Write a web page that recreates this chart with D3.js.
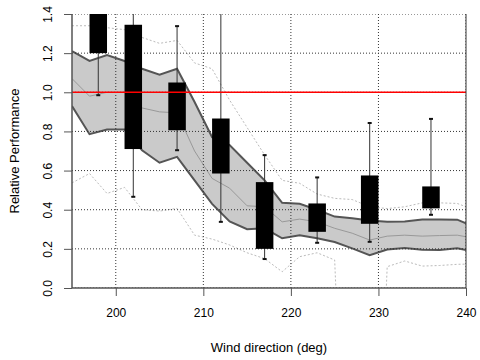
<!DOCTYPE html>
<html>
<head>
<meta charset="utf-8">
<script src="https://cdn.jsdelivr.net/npm/d3@7"></script>
<style>
  body { margin: 0; background: #fff; }
  text { font-family: "Liberation Sans", Arial, sans-serif; }
</style>
</head>
<body>
<div id="chart"></div>
<script>
// wind direction grid of the band lines
const dirs = [195, 197, 199, 201, 203, 205, 207, 209, 211, 213, 215, 217, 219, 221, 223, 225, 227, 229, 231, 233, 235, 237, 239, 240]
const bandUpper = [1.21, 1.16, 1.19, 1.16, 1.12, 1.09, 1.12, 0.95, 0.77, 0.73, 0.64, 0.55, 0.435, 0.43, 0.40, 0.365, 0.356, 0.345, 0.338, 0.34, 0.35, 0.35, 0.349, 0.33]
const bandLower = [0.93, 0.786, 0.81, 0.81, 0.704, 0.64, 0.67, 0.55, 0.43, 0.34, 0.30, 0.305, 0.254, 0.27, 0.254, 0.235, 0.2025, 0.168, 0.197, 0.204, 0.196, 0.194, 0.2025, 0.194]
const bandMid = [1.07, 0.98, 1.0, 1.0, 0.92, 0.90, 0.895, 0.70, 0.56, 0.51, 0.42, 0.415, 0.338, 0.352, 0.338, 0.305, 0.28, 0.245, 0.265, 0.27, 0.265, 0.268, 0.27, 0.262]
const outerUpper = [1.34, 1.34, 1.33, 1.32, 1.28, 1.25, 1.265, 1.15, 1.12, 0.96, 0.82, 0.68, 0.55, 0.535, 0.48, 0.458, 0.452, 0.415, 0.406, 0.415, 0.435, 0.435, 0.432, 0.415]
const outerLower = [0.537, 0.585, 0.483, 0.514, 0.40, 0.393, 0.407, 0.27, 0.25, 0.22, 0.18, 0.15, 0.083, 0.16, 0.18, 0.143, -2, -2, 0.109, 0.138, 0.112, 0.115, 0.121, 0.122]

// boxes (binned measurements)
const boxDir = [198, 202, 207, 212, 217, 223, 229, 236]
const boxQ1 = [1.20, 0.71, 0.806, 0.585, 0.20, 0.287, 0.328, 0.407]
const boxQ3 = [1.5, 1.345, 1.05, 0.866, 0.541, 0.432, 0.575, 0.519]
const whiskLow = [0.985, 0.466, 0.704, 0.338, 0.148, 0.231, 0.236, 0.374]
const whiskHigh = [1.6, 1.5, 1.338, 1.6, 0.679, 0.565, 0.843, 0.864]

const xTicks = [200, 210, 220, 230, 240]
const yTicks = [0, 0.2, 0.4, 0.6, 0.8, 1.0, 1.2, 1.4]

// dimensions
const anchoTotal = 480
const altoTotal = 360
const margins = { top: 14, right: 14, bottom: 72, left: 72 }
const ancho = anchoTotal - margins.left - margins.right
const alto = altoTotal - margins.top - margins.bottom

const svg = d3.select("#chart")
  .append("svg")
    .attr("width", anchoTotal)
    .attr("height", altoTotal)
  .append("g")
    .attr("transform", `translate(${margins.left},${margins.top})`)

svg.append("clipPath")
    .attr("id", "clip")
  .append("rect")
    .attr("width", ancho)
    .attr("height", alto)

const x = d3.scaleLinear().domain([195, 240]).range([0, ancho])
const y = d3.scaleLinear().domain([0, 1.4]).range([alto, 0])

const plot = svg.append("g").attr("clip-path", "url(#clip)")

const rows = dirs.map((d, i) => ({ d: d, up: bandUpper[i], lo: bandLower[i], mid: bandMid[i], ou: outerUpper[i], ol: outerLower[i] }))

// band
plot.append("path")
  .datum(rows)
  .attr("fill", "#cacaca")
  .attr("d", d3.area().x(r => x(r.d)).y0(r => y(r.lo)).y1(r => y(r.up)))

const lineOf = (key) => d3.line().x(r => x(r.d)).y(r => y(r[key]))

plot.append("path").datum(rows).attr("d", lineOf("mid"))
  .attr("fill", "none").attr("stroke", "#999").attr("stroke-width", 1)

;["up", "lo"].forEach(k => {
  plot.append("path").datum(rows).attr("d", lineOf(k))
    .attr("fill", "none").attr("stroke", "#555").attr("stroke-width", 2)
})

;["ou", "ol"].forEach(k => {
  plot.append("path").datum(rows).attr("d", lineOf(k))
    .attr("fill", "none").attr("stroke", "#bbb").attr("stroke-width", 1)
    .attr("stroke-dasharray", "2,2")
})

// grid
plot.selectAll(".gy").data(yTicks).enter().append("line")
  .attr("x1", 0).attr("x2", ancho)
  .attr("y1", d => y(d)).attr("y2", d => y(d))
  .attr("stroke", "#333").attr("stroke-dasharray", "1,2")
plot.selectAll(".gx").data(xTicks).enter().append("line")
  .attr("x1", d => x(d)).attr("x2", d => x(d))
  .attr("y1", 0).attr("y2", alto)
  .attr("stroke", "#333").attr("stroke-dasharray", "1,2")

// boxes and whiskers
const boxes = boxDir.map((d, i) => ({ d: d, q1: boxQ1[i], q3: boxQ3[i], lo: whiskLow[i], hi: whiskHigh[i] }))

plot.selectAll(".wh").data(boxes).enter().append("line")
  .attr("x1", b => x(b.d)).attr("x2", b => x(b.d))
  .attr("y1", b => y(b.lo)).attr("y2", b => y(b.hi))
  .attr("stroke", "#333").attr("stroke-width", 1)
;["lo", "hi"].forEach(k => {
  plot.selectAll(".cap" + k).data(boxes).enter().append("line")
    .attr("x1", b => x(b.d) - 2).attr("x2", b => x(b.d) + 2)
    .attr("y1", b => y(b[k])).attr("y2", b => y(b[k]))
    .attr("stroke", "#111").attr("stroke-width", 2)
})
plot.selectAll(".box").data(boxes).enter().append("rect")
  .attr("x", b => x(b.d - 1))
  .attr("width", b => x(b.d + 1) - x(b.d - 1))
  .attr("y", b => y(b.q3))
  .attr("height", b => y(b.q1) - y(b.q3))
  .attr("fill", "#000")

// reference line at 1
plot.append("line")
  .attr("x1", 0).attr("x2", ancho)
  .attr("y1", y(1)).attr("y2", y(1))
  .attr("stroke", "#f00").attr("stroke-width", 1.5)

// frame
svg.append("line").attr("x1", 0).attr("x2", 0).attr("y1", 0).attr("y2", alto)
  .attr("stroke", "#555").attr("stroke-width", 1.5)
svg.append("line").attr("x1", ancho).attr("x2", ancho).attr("y1", 0).attr("y2", alto)
  .attr("stroke", "#333").attr("stroke-width", 1)
svg.append("line").attr("x1", 0).attr("x2", ancho).attr("y1", alto).attr("y2", alto)
  .attr("stroke", "#555").attr("stroke-width", 1.5)

// axes
const ejeX = svg.append("g")
  .attr("transform", `translate(0,${alto})`)
  .call(d3.axisBottom(x).tickValues(xTicks).tickSize(8).tickPadding(12).tickFormat(d3.format("d")))
ejeX.select(".domain").remove()
ejeX.selectAll("line").attr("stroke", "#555")
ejeX.selectAll("text").attr("font-size", "12px").attr("fill", "#000")
  .attr("font-family", "Liberation Sans, Arial, sans-serif")

const ejeY = svg.append("g")
  .call(d3.axisLeft(y).tickValues(yTicks).tickSize(8).tickFormat(d3.format(".1f")))
ejeY.select(".domain").remove()
ejeY.selectAll("line").attr("stroke", "#555")
ejeY.selectAll("text")
  .attr("font-size", "12px").attr("fill", "#000")
  .attr("font-family", "Liberation Sans, Arial, sans-serif")
  .attr("x", null).attr("dy", null)
  .attr("text-anchor", "middle")
  .attr("transform", "translate(-20,0) rotate(-90)")

svg.append("text")
  .attr("x", ancho / 2)
  .attr("y", alto + 64)
  .attr("text-anchor", "middle")
  .attr("font-size", "13px")
  .text("Wind direction (deg)")

svg.append("text")
  .attr("transform", "rotate(-90)")
  .attr("x", -alto / 2)
  .attr("y", -53)
  .attr("text-anchor", "middle")
  .attr("font-size", "13px")
  .text("Relative Performance")
</script>
</body>
</html>
